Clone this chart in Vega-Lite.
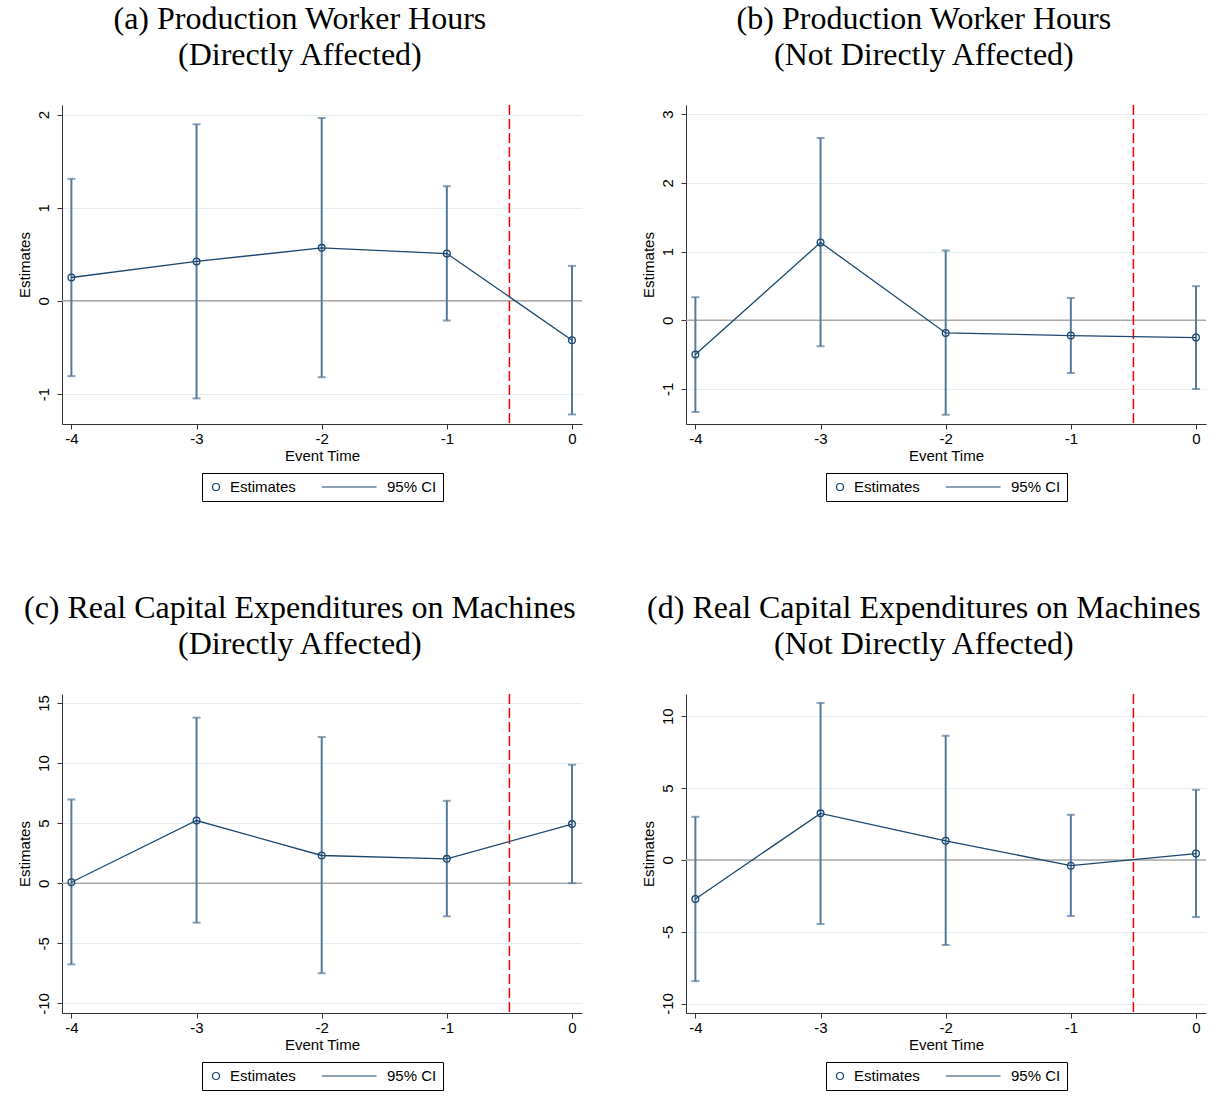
{
  "$schema": "https://vega.github.io/schema/vega-lite/v6.json",
  "background": "white",
  "padding": {"left": 17, "top": 3, "right": 5, "bottom": 5},
  "datasets": {
    "hours_direct": [
      {"t": -4, "est": 0.251, "lo": -0.808, "hi": 1.31},
      {"t": -3, "est": 0.423, "lo": -1.047, "hi": 1.896},
      {"t": -2, "est": 0.569, "lo": -0.819, "hi": 1.964},
      {"t": -1, "est": 0.508, "lo": -0.211, "hi": 1.231},
      {"t": 0, "est": -0.422, "lo": -1.219, "hi": 0.376}
    ],
    "hours_indirect": [
      {"t": -4, "est": -0.5, "lo": -1.336, "hi": 0.335},
      {"t": -3, "est": 1.132, "lo": -0.379, "hi": 2.653},
      {"t": -2, "est": -0.185, "lo": -1.375, "hi": 1.016},
      {"t": -1, "est": -0.223, "lo": -0.768, "hi": 0.325},
      {"t": 0, "est": -0.252, "lo": -1.001, "hi": 0.496}
    ],
    "capex_direct": [
      {"t": -4, "est": 0.08, "lo": -6.75, "hi": 6.97},
      {"t": -3, "est": 5.22, "lo": -3.28, "hi": 13.78},
      {"t": -2, "est": 2.31, "lo": -7.5, "hi": 12.17},
      {"t": -1, "est": 2.03, "lo": -2.75, "hi": 6.86},
      {"t": 0, "est": 4.92, "lo": 0.0, "hi": 9.86}
    ],
    "capex_indirect": [
      {"t": -4, "est": -2.72, "lo": -8.44, "hi": 3.0},
      {"t": -3, "est": 3.24, "lo": -4.47, "hi": 10.93},
      {"t": -2, "est": 1.33, "lo": -5.93, "hi": 8.65},
      {"t": -1, "est": -0.4, "lo": -3.91, "hi": 3.14},
      {"t": 0, "est": 0.44, "lo": -3.98, "hi": 4.88}
    ]
  },
  "columns": 2,
  "spacing": {"row": 90, "column": 58},
  "resolve": {
    "scale": {"x": "independent", "y": "independent", "shape": "independent"},
    "legend": {"shape": "independent"}
  },
  "concat": [
    {
      "title": {"text": ["(a) Production Worker Hours", "(Directly Affected)"]},
      "width": 520,
      "height": 319,
      "layer": [
        {"data": {"values": [{"ref": 0}]}, "mark": {"type": "rule", "color": "#a8a8a8", "strokeWidth": 1.5}, "encoding": {"y": {"field": "ref", "type": "quantitative", "title": "Estimates"}}},
        {"data": {"values": [{"event": -0.5}]}, "mark": {"type": "rule", "color": "#ff0000", "strokeWidth": 1.5, "strokeDash": [10, 4]}, "encoding": {"x": {"field": "event", "type": "quantitative", "title": "Event Time"}}},
        {"data": {"name": "hours_direct"}, "mark": {"type": "rule", "color": "#557a9c", "strokeWidth": 2},
         "encoding": {
           "x": {"field": "t", "type": "quantitative", "title": "Event Time", "scale": {"domain": [-4.075, 0.08], "nice": false, "zero": false}, "axis": {"values": [-4, -3, -2, -1, 0], "format": "d"}},
           "y": {"field": "lo", "type": "quantitative", "title": "Estimates", "scale": {"domain": [-1.322, 2.103], "nice": false, "zero": false}, "axis": {"values": [-1, 0, 1, 2], "format": "d"}},
           "y2": {"field": "hi"}}},
        {"data": {"name": "hours_direct"}, "mark": {"type": "tick", "orient": "horizontal", "color": "#557a9c", "size": 8, "thickness": 2}, "encoding": {"x": {"field": "t", "type": "quantitative", "title": "Event Time"}, "y": {"field": "lo", "type": "quantitative", "title": "Estimates"}}},
        {"data": {"name": "hours_direct"}, "mark": {"type": "tick", "orient": "horizontal", "color": "#557a9c", "size": 8, "thickness": 2}, "encoding": {"x": {"field": "t", "type": "quantitative", "title": "Event Time"}, "y": {"field": "hi", "type": "quantitative", "title": "Estimates"}}},
        {"data": {"name": "hours_direct"}, "mark": {"type": "line", "color": "#1a476f", "strokeWidth": 1.3}, "encoding": {"x": {"field": "t", "type": "quantitative", "title": "Event Time"}, "y": {"field": "est", "type": "quantitative", "title": "Estimates"}}},
        {"data": {"name": "hours_direct"}, "mark": {"type": "point", "shape": "circle", "filled": false, "size": 45, "color": "#1a476f", "strokeWidth": 1.3, "opacity": 1}, "encoding": {"x": {"field": "t", "type": "quantitative", "title": "Event Time"}, "y": {"field": "est", "type": "quantitative", "title": "Estimates"}}},
        {"data": {"values": []}, "mark": {"type": "point", "filled": false, "size": 196, "color": "#1a476f", "strokeWidth": 1.2, "opacity": 1},
         "encoding": {"shape": {"field": "series", "type": "nominal", "scale": {"domain": ["Estimates", "95% CI"], "range": ["M-0.5,0A0.5,0.5 0 1,1 0.5,0A0.5,0.5 0 1,1 -0.5,0Z", "M-7.3,0H0.5"]}, "legend": {"title": null, "orient": "bottom", "direction": "horizontal", "symbolSize": 196}}}}
      ]
    },
    {
      "title": {"text": ["(b) Production Worker Hours", "(Not Directly Affected)"]},
      "width": 520,
      "height": 319,
      "layer": [
        {"data": {"values": [{"ref": 0}]}, "mark": {"type": "rule", "color": "#a8a8a8", "strokeWidth": 1.5}, "encoding": {"y": {"field": "ref", "type": "quantitative", "title": "Estimates"}}},
        {"data": {"values": [{"event": -0.5}]}, "mark": {"type": "rule", "color": "#ff0000", "strokeWidth": 1.5, "strokeDash": [10, 4]}, "encoding": {"x": {"field": "event", "type": "quantitative", "title": "Event Time"}}},
        {"data": {"name": "hours_indirect"}, "mark": {"type": "rule", "color": "#557a9c", "strokeWidth": 2},
         "encoding": {
           "x": {"field": "t", "type": "quantitative", "title": "Event Time", "scale": {"domain": [-4.075, 0.08], "nice": false, "zero": false}, "axis": {"values": [-4, -3, -2, -1, 0], "format": "d"}},
           "y": {"field": "lo", "type": "quantitative", "title": "Estimates", "scale": {"domain": [-1.511, 3.134], "nice": false, "zero": false}, "axis": {"values": [-1, 0, 1, 2, 3], "format": "d"}},
           "y2": {"field": "hi"}}},
        {"data": {"name": "hours_indirect"}, "mark": {"type": "tick", "orient": "horizontal", "color": "#557a9c", "size": 8, "thickness": 2}, "encoding": {"x": {"field": "t", "type": "quantitative", "title": "Event Time"}, "y": {"field": "lo", "type": "quantitative", "title": "Estimates"}}},
        {"data": {"name": "hours_indirect"}, "mark": {"type": "tick", "orient": "horizontal", "color": "#557a9c", "size": 8, "thickness": 2}, "encoding": {"x": {"field": "t", "type": "quantitative", "title": "Event Time"}, "y": {"field": "hi", "type": "quantitative", "title": "Estimates"}}},
        {"data": {"name": "hours_indirect"}, "mark": {"type": "line", "color": "#1a476f", "strokeWidth": 1.3}, "encoding": {"x": {"field": "t", "type": "quantitative", "title": "Event Time"}, "y": {"field": "est", "type": "quantitative", "title": "Estimates"}}},
        {"data": {"name": "hours_indirect"}, "mark": {"type": "point", "shape": "circle", "filled": false, "size": 45, "color": "#1a476f", "strokeWidth": 1.3, "opacity": 1}, "encoding": {"x": {"field": "t", "type": "quantitative", "title": "Event Time"}, "y": {"field": "est", "type": "quantitative", "title": "Estimates"}}},
        {"data": {"values": []}, "mark": {"type": "point", "filled": false, "size": 196, "color": "#1a476f", "strokeWidth": 1.2, "opacity": 1},
         "encoding": {"shape": {"field": "series", "type": "nominal", "scale": {"domain": ["Estimates", "95% CI"], "range": ["M-0.5,0A0.5,0.5 0 1,1 0.5,0A0.5,0.5 0 1,1 -0.5,0Z", "M-7.3,0H0.5"]}, "legend": {"title": null, "orient": "bottom", "direction": "horizontal", "symbolSize": 196}}}}
      ]
    },
    {
      "title": {"text": ["(c) Real Capital Expenditures on Machines", "(Directly Affected)"]},
      "width": 520,
      "height": 319,
      "layer": [
        {"data": {"values": [{"ref": 0}]}, "mark": {"type": "rule", "color": "#a8a8a8", "strokeWidth": 1.5}, "encoding": {"y": {"field": "ref", "type": "quantitative", "title": "Estimates"}}},
        {"data": {"values": [{"event": -0.5}]}, "mark": {"type": "rule", "color": "#ff0000", "strokeWidth": 1.5, "strokeDash": [10, 4]}, "encoding": {"x": {"field": "event", "type": "quantitative", "title": "Event Time"}}},
        {"data": {"name": "capex_direct"}, "mark": {"type": "rule", "color": "#557a9c", "strokeWidth": 2},
         "encoding": {
           "x": {"field": "t", "type": "quantitative", "title": "Event Time", "scale": {"domain": [-4.075, 0.08], "nice": false, "zero": false}, "axis": {"values": [-4, -3, -2, -1, 0], "format": "d"}},
           "y": {"field": "lo", "type": "quantitative", "title": "Estimates", "scale": {"domain": [-10.8, 15.75], "nice": false, "zero": false}, "axis": {"values": [-10, -5, 0, 5, 10, 15], "format": "d"}},
           "y2": {"field": "hi"}}},
        {"data": {"name": "capex_direct"}, "mark": {"type": "tick", "orient": "horizontal", "color": "#557a9c", "size": 8, "thickness": 2}, "encoding": {"x": {"field": "t", "type": "quantitative", "title": "Event Time"}, "y": {"field": "lo", "type": "quantitative", "title": "Estimates"}}},
        {"data": {"name": "capex_direct"}, "mark": {"type": "tick", "orient": "horizontal", "color": "#557a9c", "size": 8, "thickness": 2}, "encoding": {"x": {"field": "t", "type": "quantitative", "title": "Event Time"}, "y": {"field": "hi", "type": "quantitative", "title": "Estimates"}}},
        {"data": {"name": "capex_direct"}, "mark": {"type": "line", "color": "#1a476f", "strokeWidth": 1.3}, "encoding": {"x": {"field": "t", "type": "quantitative", "title": "Event Time"}, "y": {"field": "est", "type": "quantitative", "title": "Estimates"}}},
        {"data": {"name": "capex_direct"}, "mark": {"type": "point", "shape": "circle", "filled": false, "size": 45, "color": "#1a476f", "strokeWidth": 1.3, "opacity": 1}, "encoding": {"x": {"field": "t", "type": "quantitative", "title": "Event Time"}, "y": {"field": "est", "type": "quantitative", "title": "Estimates"}}},
        {"data": {"values": []}, "mark": {"type": "point", "filled": false, "size": 196, "color": "#1a476f", "strokeWidth": 1.2, "opacity": 1},
         "encoding": {"shape": {"field": "series", "type": "nominal", "scale": {"domain": ["Estimates", "95% CI"], "range": ["M-0.5,0A0.5,0.5 0 1,1 0.5,0A0.5,0.5 0 1,1 -0.5,0Z", "M-7.3,0H0.5"]}, "legend": {"title": null, "orient": "bottom", "direction": "horizontal", "symbolSize": 196}}}}
      ]
    },
    {
      "title": {"text": ["(d) Real Capital Expenditures on Machines", "(Not Directly Affected)"]},
      "width": 520,
      "height": 319,
      "layer": [
        {"data": {"values": [{"ref": 0}]}, "mark": {"type": "rule", "color": "#a8a8a8", "strokeWidth": 1.5}, "encoding": {"y": {"field": "ref", "type": "quantitative", "title": "Estimates"}}},
        {"data": {"values": [{"event": -0.5}]}, "mark": {"type": "rule", "color": "#ff0000", "strokeWidth": 1.5, "strokeDash": [10, 4]}, "encoding": {"x": {"field": "event", "type": "quantitative", "title": "Event Time"}}},
        {"data": {"name": "capex_indirect"}, "mark": {"type": "rule", "color": "#557a9c", "strokeWidth": 2},
         "encoding": {
           "x": {"field": "t", "type": "quantitative", "title": "Event Time", "scale": {"domain": [-4.075, 0.08], "nice": false, "zero": false}, "axis": {"values": [-4, -3, -2, -1, 0], "format": "d"}},
           "y": {"field": "lo", "type": "quantitative", "title": "Estimates", "scale": {"domain": [-10.66, 11.55], "nice": false, "zero": false}, "axis": {"values": [-10, -5, 0, 5, 10], "format": "d"}},
           "y2": {"field": "hi"}}},
        {"data": {"name": "capex_indirect"}, "mark": {"type": "tick", "orient": "horizontal", "color": "#557a9c", "size": 8, "thickness": 2}, "encoding": {"x": {"field": "t", "type": "quantitative", "title": "Event Time"}, "y": {"field": "lo", "type": "quantitative", "title": "Estimates"}}},
        {"data": {"name": "capex_indirect"}, "mark": {"type": "tick", "orient": "horizontal", "color": "#557a9c", "size": 8, "thickness": 2}, "encoding": {"x": {"field": "t", "type": "quantitative", "title": "Event Time"}, "y": {"field": "hi", "type": "quantitative", "title": "Estimates"}}},
        {"data": {"name": "capex_indirect"}, "mark": {"type": "line", "color": "#1a476f", "strokeWidth": 1.3}, "encoding": {"x": {"field": "t", "type": "quantitative", "title": "Event Time"}, "y": {"field": "est", "type": "quantitative", "title": "Estimates"}}},
        {"data": {"name": "capex_indirect"}, "mark": {"type": "point", "shape": "circle", "filled": false, "size": 45, "color": "#1a476f", "strokeWidth": 1.3, "opacity": 1}, "encoding": {"x": {"field": "t", "type": "quantitative", "title": "Event Time"}, "y": {"field": "est", "type": "quantitative", "title": "Estimates"}}},
        {"data": {"values": []}, "mark": {"type": "point", "filled": false, "size": 196, "color": "#1a476f", "strokeWidth": 1.2, "opacity": 1},
         "encoding": {"shape": {"field": "series", "type": "nominal", "scale": {"domain": ["Estimates", "95% CI"], "range": ["M-0.5,0A0.5,0.5 0 1,1 0.5,0A0.5,0.5 0 1,1 -0.5,0Z", "M-7.3,0H0.5"]}, "legend": {"title": null, "orient": "bottom", "direction": "horizontal", "symbolSize": 196}}}}
      ]
    }
  ],
  "config": {
    "view": {"stroke": null},
    "font": "Liberation Sans",
    "title": {"font": "Liberation Serif", "fontSize": 32, "fontWeight": "normal", "color": "#000000", "anchor": "middle", "frame": "bounds", "offset": 32, "lineHeight": 36},
    "axis": {
      "labelFont": "Liberation Sans", "titleFont": "Liberation Sans",
      "labelFontSize": 15, "titleFontSize": 15, "titleFontWeight": "normal",
      "labelColor": "#000000", "titleColor": "#000000",
      "domainColor": "#333333", "tickColor": "#333333", "domainWidth": 1, "tickWidth": 1, "tickSize": 5,
      "gridColor": "#e6eef0", "gridWidth": 1,
      "labelExpr": "replace(datum.label, '−', '-')"
    },
    "axisX": {"grid": false, "labelPadding": 2, "titlePadding": 2},
    "axisY": {"grid": true, "labelAngle": -90, "labelPadding": 6, "titlePadding": 4},
    "legend": {
      "labelFont": "Liberation Sans", "labelFontSize": 15, "labelColor": "#000000",
      "strokeColor": "#000000", "fillColor": "#ffffff", "padding": 6, "columnPadding": 23,
      "labelOffset": 6, "symbolOffset": 0, "offset": 10, "symbolStrokeWidth": 1.2,
      "layout": {"bottom": {"anchor": "middle"}}
    }
  }
}
